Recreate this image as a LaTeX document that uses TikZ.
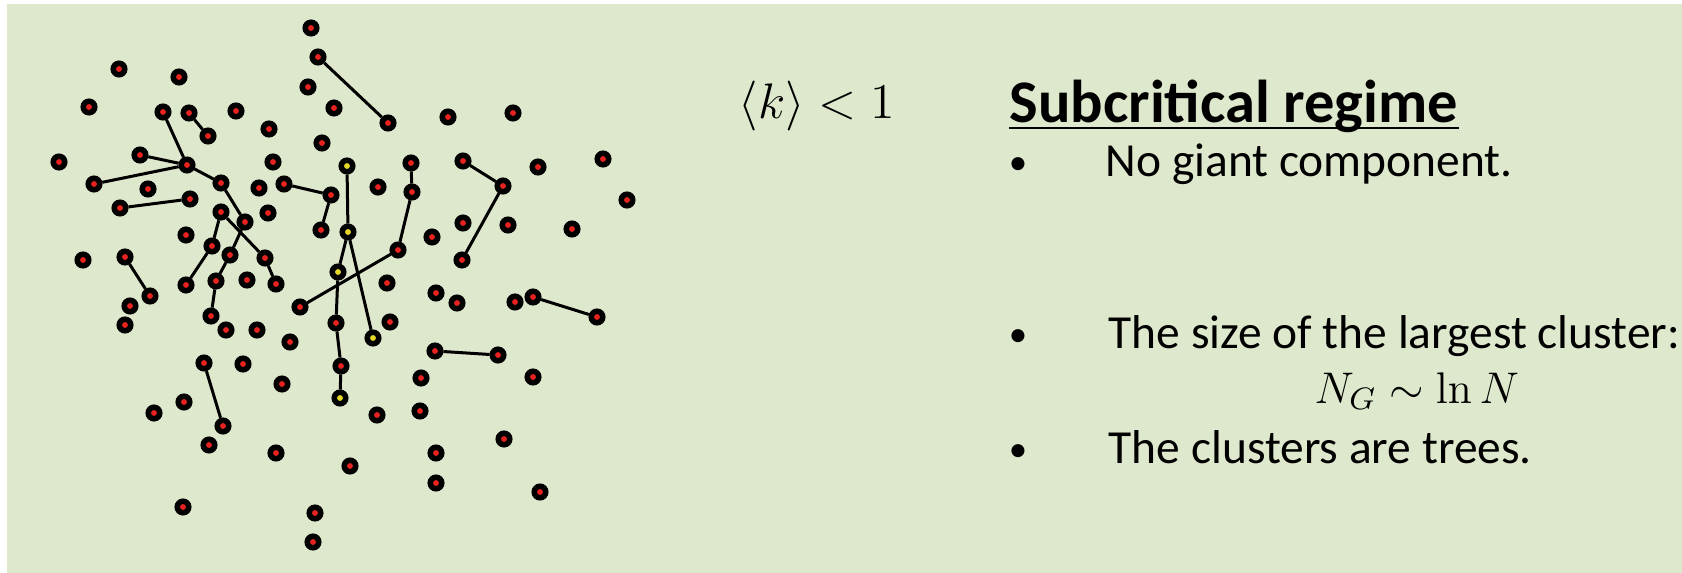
\RequirePackage{fix-cm}
\documentclass[tikz,border=0pt]{standalone}
\usepackage[no-math]{fontspec}
\setmainfont{Carlito}
\definecolor{slidegreen}{RGB}{222,232,204}
\definecolor{sitered}{RGB}{232,34,30}
\definecolor{siteyellow}{RGB}{228,214,40}
\tikzset{
  site/.style={circle, draw=black, fill=sitered, line width=0.055cm, minimum size=0.115cm, inner sep=0pt},
  ysite/.style={site, fill=siteyellow},
  link/.style={line width=0.03cm},
  txt/.style={anchor=base west, inner sep=0pt, font=\fontsize{13.5pt}{16pt}\selectfont},
  bul/.style={anchor=base, inner sep=0pt, font=\fontsize{10.5pt}{12pt}\selectfont},
}
\begin{document}
\begin{tikzpicture}[x=0.01cm, y=-0.01cm]
\fill[white] (0,0) rectangle (1682,573);
\fill[slidegreen] (7,4) rectangle (1682,573);
\useasboundingbox (0,0) rectangle (1682,573);

% random graph below the critical point
\node[site] (v1) at (311,28) {};
\node[site] (v2) at (318,57) {};
\node[site] (v3) at (308,87) {};
\node[site] (v4) at (334,108) {};
\node[site] (v5) at (119,69) {};
\node[site] (v6) at (179,77) {};
\node[site] (v7) at (89,107) {};
\node[site] (v8) at (163,112) {};
\node[site] (v9) at (189,113) {};
\node[site] (v10) at (208,136) {};
\node[site] (v11) at (236,111) {};
\node[site] (v12) at (269,129) {};
\node[site] (v13) at (322,143) {};
\node[site] (v14) at (59,162) {};
\node[site] (v15) at (140,155) {};
\node[site] (v16) at (187,165) {};
\node[site] (v17) at (94,184) {};
\node[site] (v18) at (148,189) {};
\node[site] (v19) at (221,183) {};
\node[site] (v20) at (259,188) {};
\node[site] (v21) at (284,184) {};
\node[site] (v22) at (331,195) {};
\node[site] (v23) at (120,208) {};
\node[site] (v24) at (190,199) {};
\node[site] (v25) at (221,212) {};
\node[site] (v26) at (245,222) {};
\node[site] (v27) at (268,213) {};
\node[site] (v28) at (321,230) {};
\node[site] (v29) at (186,235) {};
\node[site] (v30) at (212,246) {};
\node[site] (v31) at (230,255) {};
\node[site] (v32) at (83,260) {};
\node[site] (v33) at (125,257) {};
\node[site] (v34) at (265,258) {};
\node[site] (v35) at (186,285) {};
\node[site] (v36) at (216,281) {};
\node[site] (v37) at (247,280) {};
\node[site] (v38) at (276,284) {};
\node[site] (v40) at (388,123) {};
\node[site] (v41) at (448,117) {};
\node[site] (v42) at (513,113) {};
\node[site] (v43) at (411,163) {};
\node[site] (v44) at (378,187) {};
\node[site] (v45) at (412,192) {};
\node[site] (v46) at (463,161) {};
\node[site] (v47) at (503,186) {};
\node[site] (v48) at (538,167) {};
\node[site] (v49) at (603,159) {};
\node[site] (v50) at (627,200) {};
\node[site] (v51) at (463,223) {};
\node[site] (v52) at (508,225) {};
\node[site] (v53) at (572,229) {};
\node[site] (v54) at (432,237) {};
\node[site] (v55) at (462,260) {};
\node[site] (v56) at (398,250) {};
\node[site] (v57) at (387,283) {};
\node[site] (v58) at (436,293) {};
\node[site] (v59) at (457,303) {};
\node[site] (v60) at (300,307) {};
\node[site] (v61) at (336,323) {};
\node[site] (v62) at (390,322) {};
\node[site] (v63) at (290,342) {};
\node[site] (v64) at (435,351) {};
\node[site] (v65) at (341,366) {};
\node[site] (v66) at (421,378) {};
\node[site] (v67) at (282,384) {};
\node[site] (v68) at (150,296) {};
\node[site] (v69) at (130,306) {};
\node[site] (v70) at (125,325) {};
\node[site] (v71) at (211,316) {};
\node[site] (v72) at (226,330) {};
\node[site] (v73) at (257,330) {};
\node[site] (v74) at (204,363) {};
\node[site] (v75) at (243,364) {};
\node[site] (v76) at (223,426) {};
\node[site] (v77) at (184,402) {};
\node[site] (v78) at (154,413) {};
\node[site] (v79) at (209,445) {};
\node[site] (v80) at (276,453) {};
\node[site] (v81) at (183,507) {};
\node[site] (v82) at (315,513) {};
\node[site] (v83) at (313,542) {};
\node[site] (v84) at (377,415) {};
\node[site] (v85) at (515,302) {};
\node[site] (v86) at (533,297) {};
\node[site] (v87) at (597,317) {};
\node[site] (v88) at (498,355) {};
\node[site] (v89) at (533,377) {};
\node[site] (v90) at (420,411) {};
\node[site] (v91) at (504,439) {};
\node[site] (v92) at (350,466) {};
\node[site] (v93) at (436,453) {};
\node[site] (v94) at (436,483) {};
\node[site] (v95) at (540,492) {};
\node[site] (v96) at (273,162) {};
\node[ysite] (y1) at (347,166) {};
\node[ysite] (y2) at (348,232) {};
\node[ysite] (y3) at (338,272) {};
\node[ysite] (y4) at (373,338) {};
\node[ysite] (y5) at (340,398) {};

% links
\draw[link] (v2) -- (v40);
\draw[link] (v9) -- (v10);
\draw[link] (v8) -- (v16);
\draw[link] (v15) -- (v16);
\draw[link] (v17) -- (v16);
\draw[link] (v16) -- (v19);
\draw[link] (v23) -- (v24);
\draw[link] (v19) -- (v26);
\draw[link] (v25) -- (v30);
\draw[link] (v25) -- (v34);
\draw[link] (v26) -- (v31);
\draw[link] (v30) -- (v35);
\draw[link] (v31) -- (v36);
\draw[link] (v36) -- (v71);
\draw[link] (v34) -- (v38);
\draw[link] (v33) -- (v68);
\draw[link] (v74) -- (v76);
\draw[link] (v21) -- (v22);
\draw[link] (v22) -- (v28);
\draw[link] (y1) -- (y2);
\draw[link] (y2) -- (y3);
\draw[link] (y2) -- (y4);
\draw[link] (y3) -- (v61);
\draw[link] (v61) -- (v65);
\draw[link] (v65) -- (y5);
\draw[link] (v56) -- (v60);
\draw[link] (v43) -- (v45);
\draw[link] (v45) -- (v56);
\draw[link] (v46) -- (v47);
\draw[link] (v47) -- (v55);
\draw[link] (v64) -- (v88);
\draw[link] (v86) -- (v87);

% text
\node[anchor=base west, inner sep=0pt, font=\fontsize{14.2pt}{17pt}\selectfont] (kmean) at (738,119) {$\langle k\rangle < 1$};
\node[anchor=base west, inner sep=0pt, font=\fontsize{17.2pt}{20pt}\selectfont\bfseries] (title) at (1009,123) {Subcritical regime};
\draw[line width=0.025cm] ([yshift=-0.05cm]title.base west) -- ([yshift=-0.05cm]title.base east);
\node[bul] (b1) at (1018,175) {•};
\node[txt] (i1) at (1105,177) {No giant component.};
\node[bul] (b2) at (1018,346) {•};
\node[txt] (i2) at (1108,348) {The size of the largest cluster:};
\node[anchor=base west, inner sep=0pt, font=\fontsize{12.6pt}{15pt}\selectfont] (ng) at (1314,403) {$N_G \sim \ln N$};
\node[bul] (b3) at (1018,461) {•};
\node[txt] (i3) at (1108,463) {The clusters are trees.};
\end{tikzpicture}
\end{document}
